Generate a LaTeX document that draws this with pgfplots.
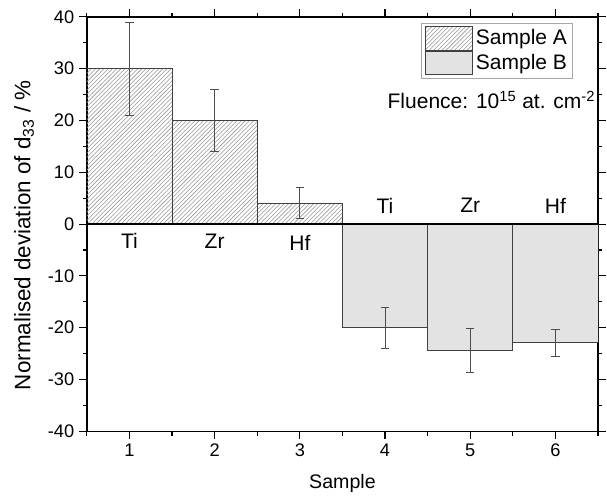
\documentclass[border=0pt]{standalone}
\usepackage{pgfplots}
\pgfplotsset{compat=1.18}
\usepackage{fontspec}
\setmainfont{Liberation Sans}
\usetikzlibrary{patterns}
\begin{document}
\begin{tikzpicture}
\begin{axis}[
  scale only axis, width=365pt, height=296pt,
  xmin=0.5, xmax=6.5, ymin=-40, ymax=40,
  xtick={1,2,3,4,5,6}, minor xtick={0.5,1.5,2.5,3.5,4.5,5.5,6.5},
  ytick={-40,-30,...,40}, minor ytick={-35,-25,...,35},
  tick align=outside, major tick length=5.5pt, minor tick length=3pt,
  tick style={black, line width=0.8pt},
  axis line style={black, line width=1.1pt},
  /pgf/number format/assume math mode=true,
  ticklabel style={font=\fontsize{13}{15}\selectfont},
  xlabel={Sample}, ylabel={Normalised deviation of d\textsubscript{33} / \%},
  xlabel style={font=\fontsize{14}{16}\selectfont, yshift=-5.5pt},
  ylabel style={font=\fontsize{16}{18}\selectfont, yshift=3pt, xshift=-8pt},
  ybar, bar width=1, bar shift=0pt,
  legend style={at={(0.951,0.9855)}, anchor=north east, draw=gray!70, line width=0.6pt,
    font=\fontsize{15}{17}\selectfont, row sep=0pt, inner sep=2pt},
  legend cell align=left,
  legend image code/.code={\draw[#1] (0pt,-8.5pt) rectangle (34pt,8.5pt);},
  error bars/error bar style={gray!60!black, line width=0.6pt},
  error bars/error mark options={gray!60!black, line width=0.6pt, mark size=3pt, rotate=90},
]
\addplot[draw=black!75, line width=0.6pt, pattern=north east lines, pattern color=gray!80,
  error bars/.cd, y dir=both, y explicit] coordinates {
  (1,30) +- (0,9)
  (2,20) +- (0,6)
  (3,4)  +- (0,3)
};
\addlegendentry{Sample A}
\addplot[draw=black!75, line width=0.6pt, fill=gray!22,
  error bars/.cd, y dir=both, y explicit] coordinates {
  (4,-20)   +- (0,4)
  (5,-24.4) +- (0,4.2)
  (6,-22.9) +- (0,2.6)
};
\addlegendentry{Sample B}
\draw[black, line width=1.1pt] (axis cs:0.5,0) -- (axis cs:6.5,0);
\node[font=\fontsize{15}{17}\selectfont] at (axis cs:1,-3.3) {Ti};
\node[font=\fontsize{15}{17}\selectfont] at (axis cs:2,-3.3) {Zr};
\node[font=\fontsize{15}{17}\selectfont] at (axis cs:3,-3.6) {Hf};
\node[font=\fontsize{15}{17}\selectfont] at (axis cs:4,3.6) {Ti};
\node[font=\fontsize{15}{17}\selectfont] at (axis cs:5,3.6) {Zr};
\node[font=\fontsize{15}{17}\selectfont] at (axis cs:6,3.6) {Hf};
\node[anchor=east, font=\fontsize{15}{17}\selectfont, inner sep=0pt] at (axis cs:6.47,23.9)
  {Fluence: 10\textsuperscript{15} at. cm\textsuperscript{-2}};
\end{axis}
\pgfresetboundingbox
\path ([xshift=-62pt,yshift=-46.4pt]current axis.south west) rectangle ([xshift=6.4pt,yshift=12pt]current axis.north east);
\end{tikzpicture}
\end{document}
